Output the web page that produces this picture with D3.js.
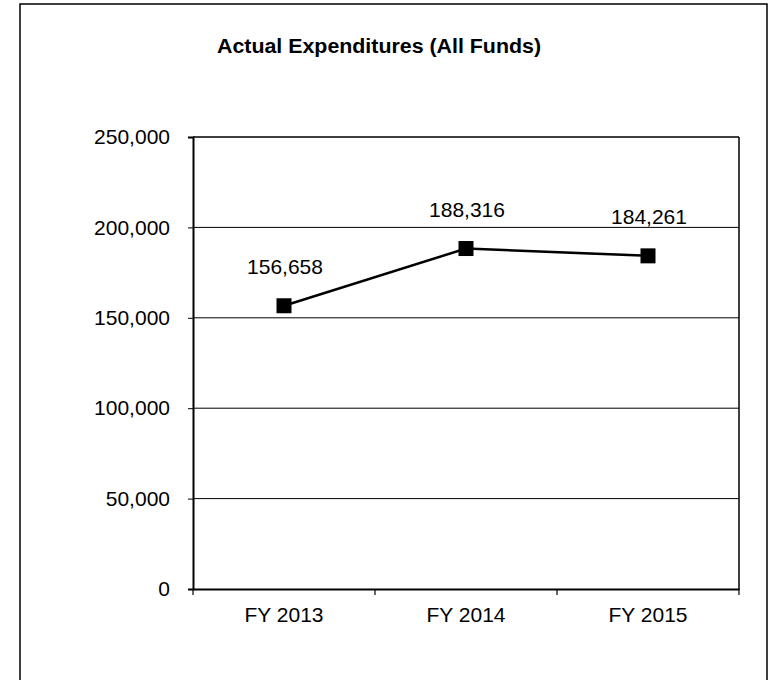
<!DOCTYPE html>
<html>
<head>
<meta charset="utf-8">
<script src="https://cdn.jsdelivr.net/npm/d3@7"></script>
<style>
  html, body { margin: 0; padding: 0; background: #fff; }
  svg { display: block; font-family: "Liberation Sans", Arial, sans-serif; }
</style>
</head>
<body>
<svg id="chart" width="777" height="680"></svg>
<script>
const categories = ["FY 2013", "FY 2014", "FY 2015"];
const values = [156658, 188316, 184261];
const yTicks = [0, 50000, 100000, 150000, 200000, 250000];
const title = "Actual Expenditures (All Funds)";

const svg = d3.select("#chart");
const plot = { left: 193, right: 739, top: 137, bottom: 589 };

// outer frame
svg.append("rect")
  .attr("x", 20).attr("y", 4)
  .attr("width", 747).attr("height", 700)
  .attr("fill", "none").attr("stroke", "#000").attr("stroke-width", 1.5);

// title
svg.append("text")
  .attr("x", 217).attr("y", 53)
  .attr("font-size", 20).attr("font-weight", "bold")
  .attr("textLength", 324).attr("lengthAdjust", "spacingAndGlyphs")
  .text(title);

const x = d3.scaleBand().domain(categories).range([plot.left, plot.right]).padding(0);
const y = d3.scaleLinear().domain([0, 250000]).range([plot.bottom, plot.top]);
const fmt = d3.format(",");

// gridlines
svg.append("g")
  .selectAll("line")
  .data(yTicks.filter(d => d > 0))
  .join("line")
  .attr("x1", plot.left).attr("x2", plot.right)
  .attr("y1", d => y(d)).attr("y2", d => y(d))
  .attr("stroke", "#000").attr("stroke-width", d => d === 250000 ? 1.5 : 1);

// right border of plot
svg.append("line")
  .attr("x1", plot.right).attr("x2", plot.right)
  .attr("y1", plot.top).attr("y2", plot.bottom)
  .attr("stroke", "#000").attr("stroke-width", 1.5);

// y axis
const yAxis = svg.append("g")
  .attr("transform", `translate(${plot.left},0)`)
  .call(d3.axisLeft(y).tickValues(yTicks).tickFormat(fmt).tickSize(5).tickPadding(18));
yAxis.select(".domain").attr("stroke-width", 2);
yAxis.selectAll("text").attr("font-size", 21).attr("font-family", "Liberation Sans, Arial, sans-serif").attr("fill", "#000");

// x axis with ticks at category boundaries
const xAxis = svg.append("g")
  .attr("transform", `translate(0,${plot.bottom})`)
  .call(d3.axisBottom(x).tickSize(0).tickPadding(18));
xAxis.select(".domain").attr("stroke-width", 2);
xAxis.selectAll("text").attr("font-size", 21).attr("font-family", "Liberation Sans, Arial, sans-serif").attr("fill", "#000");
const boundaries = categories.map(c => x(c)).concat([x(categories[categories.length - 1]) + x.bandwidth()]);
xAxis.selectAll("line.bound")
  .data(boundaries)
  .join("line")
  .attr("class", "bound")
  .attr("x1", d => d).attr("x2", d => d)
  .attr("y1", 0).attr("y2", 6)
  .attr("stroke", "#000").attr("stroke-width", 1.2);

// line
const cx = c => x(c) + x.bandwidth() / 2;
const pts = categories.map((c, i) => [cx(c), y(values[i])]);
svg.append("path")
  .attr("d", d3.line()(pts))
  .attr("fill", "none").attr("stroke", "#000").attr("stroke-width", 2.5);

// markers
const ms = 15;
svg.append("g").selectAll("rect")
  .data(values)
  .join("rect")
  .attr("x", (d, i) => cx(categories[i]) - ms / 2)
  .attr("y", d => y(d) - ms / 2)
  .attr("width", ms).attr("height", ms)
  .attr("fill", "#000");

// data labels
svg.append("g").selectAll("text")
  .data(values)
  .join("text")
  .attr("x", (d, i) => cx(categories[i]) + 1)
  .attr("y", d => y(d) - 32)
  .attr("text-anchor", "middle")
  .attr("font-size", 21)
  .attr("fill", "#000")
  .text(d => fmt(d));
</script>
</body>
</html>
